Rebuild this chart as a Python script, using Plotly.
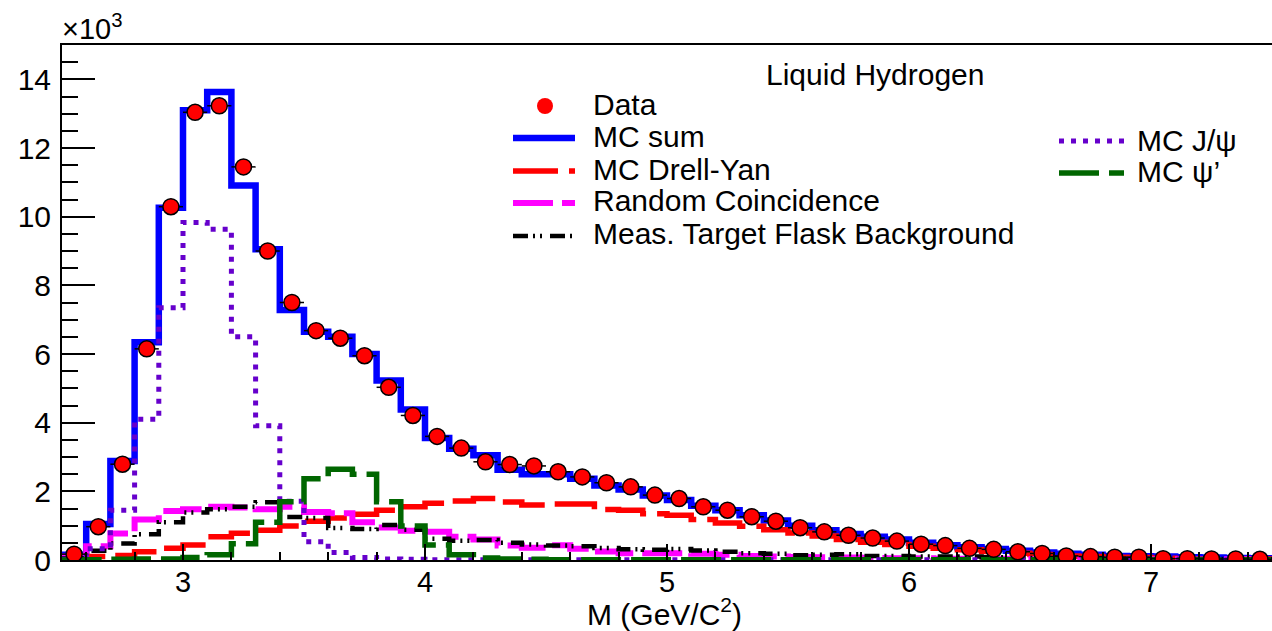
import numpy as np
import plotly.graph_objects as go

# ---------------- data (values in units of 10^3 events) ----------------
x_lo = 2.5
bin_w = 0.1

data_vals = [0.17, 0.97, 2.79, 6.15, 10.29, 13.04, 13.23, 11.45, 9.00, 7.50,
             6.68, 6.46, 5.95, 5.03, 4.21, 3.60, 3.26, 2.86, 2.78, 2.74,
             2.57, 2.42, 2.25, 2.13, 1.89, 1.79, 1.55, 1.45, 1.26, 1.13,
             0.94, 0.82, 0.72, 0.64, 0.55, 0.46, 0.42, 0.34, 0.31, 0.24,
             0.19, 0.12, 0.10, 0.08, 0.08, 0.04, 0.04, 0.03, 0.03, 0.02]

mc_sum = [0.15, 1.05, 2.88, 6.34, 10.26, 13.10, 13.63, 10.91, 9.05, 7.28,
          6.65, 6.50, 6.00, 5.23, 4.38, 3.55, 3.24, 3.05, 2.63, 2.50,
          2.50, 2.37, 2.17, 2.05, 1.88, 1.75, 1.58, 1.45, 1.30, 1.15,
          1.00, 0.87, 0.76, 0.68, 0.60, 0.50, 0.43, 0.37, 0.32, 0.27,
          0.22, 0.18, 0.15, 0.12, 0.11, 0.10, 0.08, 0.07, 0.06, 0.05]

mc_dy = [0.05, 0.10, 0.13, 0.24, 0.34, 0.44, 0.68, 0.78, 0.87, 0.99,
         1.13, 1.22, 1.33, 1.45, 1.55, 1.65, 1.72, 1.79, 1.69, 1.60,
         1.63, 1.63, 1.47, 1.45, 1.35, 1.30, 1.18, 1.08, 0.98, 0.88,
         0.79, 0.70, 0.60, 0.52, 0.45, 0.40, 0.34, 0.30, 0.25, 0.20,
         0.16, 0.12, 0.10, 0.08, 0.07, 0.05, 0.04, 0.04, 0.03, 0.03]

random_coinc = [0.10, 0.40, 0.77, 1.18, 1.43, 1.48, 1.55, 1.53, 1.48, 1.55,
                1.40, 1.36, 1.10, 0.95, 0.85, 0.82, 0.68, 0.60, 0.42, 0.36,
                0.43, 0.33, 0.25, 0.20, 0.20, 0.20, 0.18, 0.15, 0.12, 0.10,
                0.09, 0.08, 0.07, 0.06, 0.05, 0.05, 0.04, 0.04, 0.04, 0.03,
                0.03, 0.03, 0.03, 0.02, 0.02, 0.02, 0.02, 0.02, 0.02, 0.02]

flask_bkg = [0.05, 0.27, 0.48, 0.75, 1.10, 1.38, 1.48, 1.55, 1.68, 1.25,
             1.22, 0.93, 0.90, 1.02, 0.88, 0.62, 0.56, 0.58, 0.50, 0.45,
             0.42, 0.40, 0.35, 0.31, 0.30, 0.32, 0.28, 0.24, 0.20, 0.18,
             0.14, 0.15, 0.17, 0.12, 0.12, 0.10, 0.10, 0.10, 0.08, 0.07,
             0.06, 0.05, 0.05, 0.04, 0.04, 0.03, 0.03, 0.03, 0.02, 0.02]

mc_jpsi = [0.03, 0.33, 1.45, 4.10, 7.35, 9.83, 9.63, 6.50, 3.91, 1.71,
           0.53, 0.22, 0.07, 0.03, 0.02, 0.01, 0.01, 0.01, 0.01, 0.01,
           0.01, 0.01, 0.01, 0.01, 0.01, 0.01, 0.01, 0.01, 0.01, 0.01,
           0.01, 0.01, 0.01, 0.01, 0.01, 0.01, 0.01, 0.01, 0.01, 0.01,
           0.01, 0.01, 0.01, 0.01, 0.01, 0.01, 0.01, 0.01, 0.01, 0.01]

mc_psip = [0.00, 0.01, 0.02, 0.03, 0.03, 0.07, 0.15, 0.47, 1.10, 1.70,
           2.37, 2.64, 2.50, 1.70, 0.99, 0.44, 0.15, 0.06, 0.03, 0.02,
           0.01, 0.01, 0.01, 0.01, 0.01, 0.01, 0.01, 0.01, 0.01, 0.01,
           0.01, 0.01, 0.01, 0.01, 0.01, 0.01, 0.01, 0.01, 0.01, 0.01,
           0.01, 0.01, 0.01, 0.01, 0.01, 0.01, 0.01, 0.01, 0.01, 0.01]

x_tick_values = [3, 4, 5, 6, 7]
y_tick_values = [0, 2, 4, 6, 8, 10, 12, 14]

legend_title = "Liquid Hydrogen"
legend_labels = ["Data", "MC sum", "MC Drell-Yan", "Random Coincidence",
                 "Meas. Target Flask Background"]
legend_labels2 = ["MC J/ψ", "MC ψ’"]

# ---------------- derived bins ----------------
n_bins = len(data_vals)
edges = x_lo + bin_w * np.arange(n_bins + 1)
centers = edges[:-1] + bin_w / 2

FONT = "Liberation Sans, Arial, Helvetica, sans-serif"

RED = "#ff0000"
BLUE = "#0000ff"
MAGENTA = "#ff00ff"
PURPLE = "#6600cc"
GREEN = "#006600"

DASH_DY = "45px,11px"
DASH_RC = "40px,9px"
DASH_BK = "15px,5px,2px,5px,2px,8px"
DASH_JP = "5px,7px"
DASH_PP = "40px,10px"


def hist_trace(vals, color, width, dash):
    yv = list(vals) + [vals[-1]]
    return go.Scatter(x=edges, y=yv, mode="lines",
                      line=dict(shape="hv", color=color, width=width, dash=dash),
                      showlegend=False, hoverinfo="skip")


fig = go.Figure()
fig.add_trace(hist_trace(mc_sum, BLUE, 6.5, "solid"))
fig.add_trace(hist_trace(mc_dy, RED, 5.5, DASH_DY))
fig.add_trace(hist_trace(random_coinc, MAGENTA, 6, DASH_RC))
fig.add_trace(hist_trace(flask_bkg, "black", 4.5, DASH_BK))
fig.add_trace(hist_trace(mc_jpsi, PURPLE, 5, DASH_JP))
fig.add_trace(hist_trace(mc_psip, GREEN, 5.5, DASH_PP))
fig.add_trace(go.Scatter(
    x=centers, y=data_vals, mode="markers",
    marker=dict(symbol="circle", size=16, color=RED,
                line=dict(color="black", width=1.5)),
    error_x=dict(type="constant", value=bin_w / 2, color="black",
                 thickness=1.5, width=0),
    showlegend=False))

# ---------------- layout ----------------
W, H = 1272, 631
ML, MR, MT, MB = 62, 0, 45, 71
PW, PH = W - ML - MR, H - MT - MB


def px_x(px):
    return (px - ML) / PW


def px_y(py):
    return (H - MB - py) / PH


fig.update_layout(
    width=W, height=H,
    margin=dict(l=ML, r=MR, t=MT, b=MB, pad=0),
    paper_bgcolor="white", plot_bgcolor="white",
    showlegend=False,
    font=dict(family=FONT, size=29, color="black"),
    xaxis=dict(range=[edges[0], edges[-1]], tickmode="array",
               tickvals=x_tick_values,
               ticktext=[str(v) for v in x_tick_values],
               showline=True, linecolor="black", linewidth=2, mirror=True,
               ticks="inside", ticklen=16, tickwidth=2, tickcolor="black",
               minor=dict(dtick=0.2, tick0=0, ticks="inside", ticklen=8,
                          tickwidth=2, tickcolor="black", showgrid=False),
               showgrid=False, zeroline=False, ticklabelstandoff=-5,
               tickfont=dict(family=FONT, size=29, color="black")),
    yaxis=dict(range=[0, 15], tickmode="array", tickvals=y_tick_values,
               ticktext=[str(v) for v in y_tick_values],
               showline=True, linecolor="black", linewidth=2,
               ticks="inside", ticklen=33, tickwidth=2, tickcolor="black",
               minor=dict(dtick=0.5, tick0=0, ticks="inside", ticklen=16,
                          tickwidth=2, tickcolor="black", showgrid=False),
               showgrid=False, zeroline=False, ticklabelstandoff=3,
               tickfont=dict(family=FONT, size=30, color="black")),
)

annotations = []
shapes = []

# axis title and exponent
annotations.append(dict(xref="paper", yref="paper", x=px_x(664), y=px_y(612),
                        xanchor="center", yanchor="middle", showarrow=False,
                        text="M (GeV/C<sup>2</sup>)",
                        font=dict(family=FONT, size=30, color="black")))
annotations.append(dict(xref="paper", yref="paper", x=px_x(60), y=px_y(27),
                        xanchor="left", yanchor="middle", showarrow=False,
                        text="×10<sup>3</sup>",
                        font=dict(family=FONT, size=29, color="black")))

# legend title
annotations.append(dict(xref="paper", yref="paper", x=px_x(875), y=px_y(74),
                        xanchor="center", yanchor="middle", showarrow=False,
                        text=legend_title,
                        font=dict(family=FONT, size=30, color="black")))

rows_y = [105, 136, 169, 201, 234]
text_x = 591
for lab, ry in zip(legend_labels, rows_y):
    annotations.append(dict(xref="paper", yref="paper", x=px_x(text_x),
                            y=px_y(ry), xanchor="left", yanchor="middle",
                            showarrow=False, text=lab,
                            font=dict(family=FONT, size=30, color="black")))

# legend symbols column 1
shapes.append(dict(type="circle", xref="paper", yref="paper",
                   x0=px_x(537), x1=px_x(553), y0=px_y(114), y1=px_y(98),
                   fillcolor=RED, line=dict(width=0)))
sym_styles = [(BLUE, 6.5, "solid"), (RED, 5.5, DASH_DY), (MAGENTA, 6, DASH_RC),
              ("black", 4.5, DASH_BK)]
for (c, w, d), ry in zip(sym_styles, rows_y[1:]):
    shapes.append(dict(type="line", xref="paper", yref="paper",
                       x0=px_x(513), x1=px_x(575), y0=px_y(ry + 2),
                       y1=px_y(ry + 2), line=dict(color=c, width=w, dash=d)))

# legend column 2
rows2_y = [140, 172]
sym2 = [(PURPLE, 5, DASH_JP), (GREEN, 5.5, DASH_PP)]
for lab, (c, w, d), ry in zip(legend_labels2, sym2, rows2_y):
    shapes.append(dict(type="line", xref="paper", yref="paper",
                       x0=px_x(1059), x1=px_x(1124), y0=px_y(ry + 1),
                       y1=px_y(ry + 1), line=dict(color=c, width=w, dash=d)))
    annotations.append(dict(xref="paper", yref="paper", x=px_x(1135),
                            y=px_y(ry), xanchor="left", yanchor="middle",
                            showarrow=False, text=lab,
                            font=dict(family=FONT, size=30, color="black")))

fig.update_layout(annotations=annotations, shapes=shapes)

fig.write_html("out.html")
